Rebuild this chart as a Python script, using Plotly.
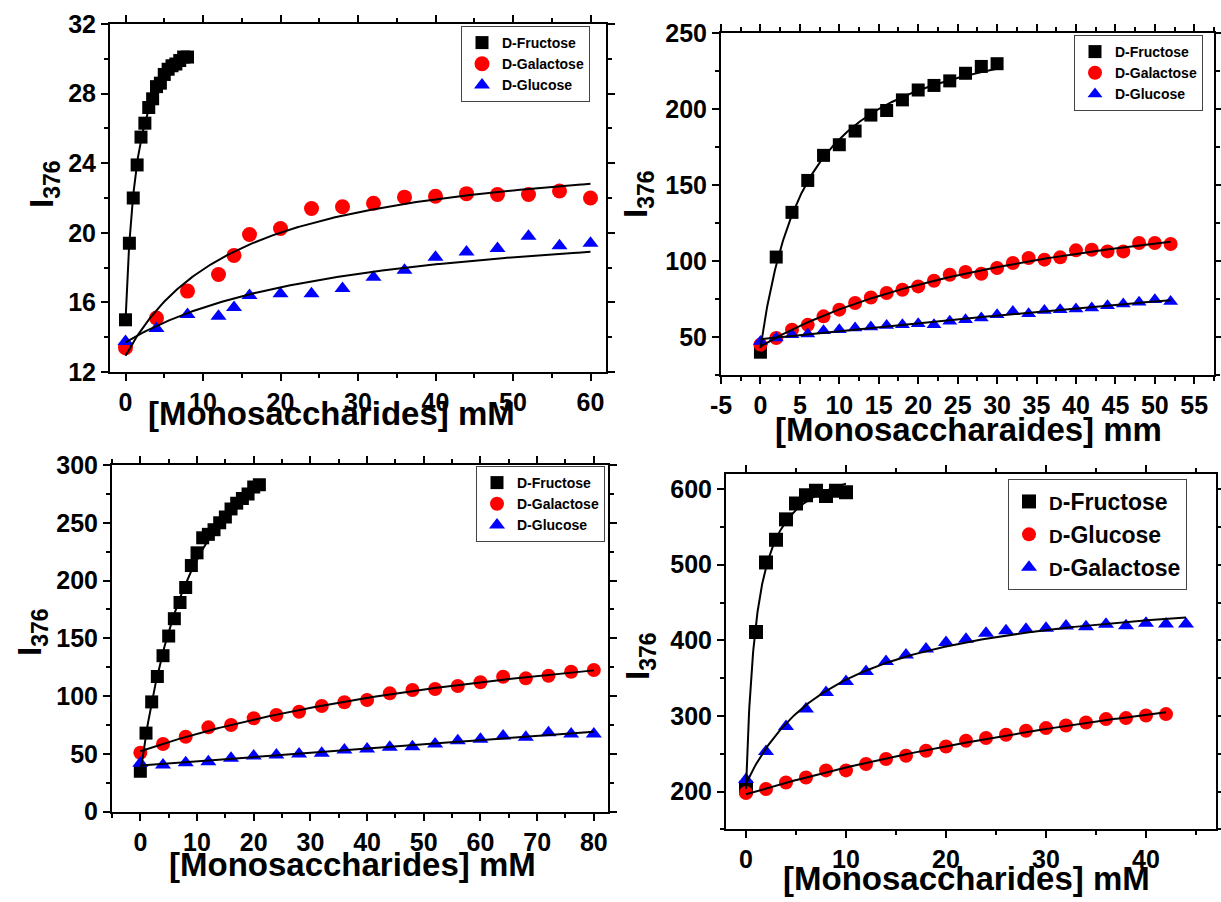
import numpy as np
import plotly.graph_objects as go

# ---------------- data ----------------
# Panel (a)
A_fru_x = [0, 0.5, 1, 1.5, 2, 2.5, 3, 3.5, 4, 4.5, 5, 5.5, 6, 6.5, 7, 7.5, 8]
A_fru_y = [15.0, 19.4, 22.0, 23.9, 25.5, 26.3, 27.2, 27.7, 28.4, 28.6, 29.1, 29.4, 29.6, 29.7, 29.9, 30.1, 30.1]
A_sug_x = [0, 4, 8, 12, 14, 16, 20, 24, 28, 32, 36, 40, 44, 48, 52, 56, 60]
A_gal_y = [13.4, 15.1, 16.65, 17.6, 18.7, 19.9, 20.25, 21.4, 21.5, 21.7, 22.05, 22.1, 22.25, 22.2, 22.2, 22.4, 22.0]
A_glu_y = [13.75, 14.5, 15.3, 15.2, 15.7, 16.4, 16.5, 16.5, 16.8, 17.45, 17.85, 18.6, 18.9, 19.1, 19.8, 19.25, 19.4]
# published fit for the glucose curve: y0, A, K
A_glu_fit = (13.7, 7.67, 28.4)

# Panel (b)
B_fru_x = [0, 2, 4, 6, 8, 10, 12, 14, 16, 18, 20, 22, 24, 26, 28, 30]
B_fru_y = [40, 102.6, 132, 153, 169.5, 176.5, 185.5, 196, 199, 206, 212.5, 215.5, 218.5, 223.5, 228, 229.8]
B_sug_x = [0, 2, 4, 6, 8, 10, 12, 14, 16, 18, 20, 22, 24, 26, 28, 30, 32, 34, 36, 38, 40, 42, 44, 46, 48, 50, 52]
B_gal_y = [45, 49.3, 54.8, 58, 63.6, 68, 72.4, 76, 78.9, 81.1, 83.3, 87, 91, 92.8, 91.6, 95.4, 98.7,
           102, 100.9, 102.4, 107, 107.4, 106.3, 106.3, 111.8, 111.8, 111.2]
B_glu_y = [47.1, 49.3, 51.5, 52, 54.1, 54.8, 55.9, 56.6, 57.6, 58.1, 58.7, 58.1, 60.3, 61.4, 62.5, 64.7, 66.8,
           65.3, 67.5, 68, 68.4, 69.1, 70.6, 71.7, 72.8, 74.5, 73.4]
B_xtick_vals = [-5, 0, 5, 10, 15, 20, 25, 30, 35, 40, 45, 50, 55]
B_xtick_text = ["-5", "0", "5", "10", "15", "20", "25", "30", "35", "40", "45", "50", "55"]

# Panel (c)
C_fru_x = [0, 1, 2, 3, 4, 5, 6, 7, 8, 9, 10, 11, 12, 13, 14, 15, 16, 17, 18, 19, 20, 21]
C_fru_y = [35, 68, 95, 117, 135, 152, 167, 181, 194, 213, 224, 237, 240, 244, 250, 255, 262, 267, 271, 275, 281, 283]
C_sug_x = [0, 4, 8, 12, 16, 20, 24, 28, 32, 36, 40, 44, 48, 52, 56, 60, 64, 68, 72, 76, 80]
C_gal_y = [51, 58.6, 64.9, 73, 75, 80.8, 83.7, 86.5, 91.5, 94.7, 96.6, 102.4, 105.3, 106.2, 108.8, 112,
           116.8, 115.4, 117.7, 121.1, 122.6]
C_glu_y = [41.9, 40.4, 42.4, 43.3, 46.2, 48.2, 49.1, 49.9, 50.5, 53.4, 54.3, 55.7, 56.2, 58.6, 61.4, 62.6,
           65.5, 64.4, 68.4, 67.2, 67.2]

# Panel (d)
D_fru_x = [0, 1, 2, 3, 4, 5, 6, 7, 8, 9, 10]
D_fru_y = [205, 411, 503, 533, 560, 581, 592, 598, 591, 598, 596]
D_glc_x = [0, 2, 4, 6, 8, 10, 12, 14, 16, 18, 20, 22, 24, 26, 28, 30, 32, 34, 36, 38, 40, 42]
D_glc_y = [198, 203.3, 212, 218.6, 227.9, 227.9, 236.3, 243, 247.3, 253.9, 259.6, 267.1, 270.7, 275,
           280.3, 283.9, 287.3, 291.3, 295.8, 297.1, 300.5, 302.4]
D_gal_x = [0, 2, 4, 6, 8, 10, 12, 14, 16, 18, 20, 22, 24, 26, 28, 30, 32, 34, 36, 38, 40, 42, 44]
D_gal_y = [216, 253, 286, 309, 331, 345.5, 358.7, 371.9, 380.7, 388.6, 397, 401.4, 409.4, 412.8, 414.6,
           416, 419, 418.1, 421.3, 419.4, 422.6, 421.7, 421.7]

# ---------------- styling ----------------
SANS = "Liberation Sans, Arial, sans-serif"
TICK_FONT = dict(family=SANS, size=25, color="black", weight="bold")
BLACK, RED, BLUE = "#000000", "#ff0000", "#0000ff"
W, H = 1221, 902


def hyperbola_fit(x, y):
    """Least-squares fit of y = y0 + A*x/(K+x); returns (y0, A, K)."""
    x = np.asarray(x, float)
    y = np.asarray(y, float)
    best = None
    for K in np.logspace(-2, 4, 3000):
        M = np.column_stack([np.ones_like(x), x / (K + x)])
        coef, *_ = np.linalg.lstsq(M, y, rcond=None)
        sse = float(((M @ coef - y) ** 2).sum())
        if best is None or sse < best[0]:
            best = (sse, K, coef)
    _, K, (y0, A) = best
    return y0, A, K


def px_x(p):
    return p / W


def px_y(p):
    return 1 - p / H


def small_d(rest):
    return "<span style='font-size:19px'>D</span>" + rest


fig = go.Figure()

panels = [
    # axis suffix, legend id, series: (name, x, y, symbol, colour, size, fixed fit params)
    ("", "legend", [
        ("D-Fructose", A_fru_x, A_fru_y, "square", BLACK, 13, None),
        ("D-Galactose", A_sug_x, A_gal_y, "circle", RED, 15, None),
        ("D-Glucose", A_sug_x, A_glu_y, "triangle-up", BLUE, 14, A_glu_fit),
    ]),
    ("2", "legend2", [
        ("D-Fructose", B_fru_x, B_fru_y, "square", BLACK, 13, None),
        ("D-Galactose", B_sug_x, B_gal_y, "circle", RED, 14, None),
        ("D-Glucose", B_sug_x, B_glu_y, "triangle-up", BLUE, 13, None),
    ]),
    ("3", "legend3", [
        ("D-Fructose", C_fru_x, C_fru_y, "square", BLACK, 13, None),
        ("D-Galactose", C_sug_x, C_gal_y, "circle", RED, 14, None),
        ("D-Glucose", C_sug_x, C_glu_y, "triangle-up", BLUE, 14, None),
    ]),
    ("4", "legend4", [
        (small_d("-Fructose"), D_fru_x, D_fru_y, "square", BLACK, 14, None),
        (small_d("-Glucose"), D_glc_x, D_glc_y, "circle", RED, 14, None),
        (small_d("-Galactose"), D_gal_x, D_gal_y, "triangle-up", BLUE, 14, None),
    ]),
]

for suffix, leg, series in panels:
    xa, ya = "x" + suffix, "y" + suffix
    for name, xs, ys, sym, col, size, _ in series:
        fig.add_trace(go.Scatter(
            x=xs, y=ys, mode="markers", name=name, legend=leg,
            xaxis=xa, yaxis=ya,
            marker=dict(symbol=sym, color=col, size=size, line=dict(width=0)),
        ))
    # binding-isotherm curves drawn on top of the points
    for name, xs, ys, sym, col, size, fixed in series:
        y0, A, K = fixed if fixed is not None else hyperbola_fit(xs, ys)
        t = np.linspace(0, max(xs), 300)
        fig.add_trace(go.Scatter(
            x=t, y=y0 + A * t / (K + t), mode="lines", showlegend=False, hoverinfo="skip",
            xaxis=xa, yaxis=ya, line=dict(color="black", width=2),
        ))


def axis(domain, rng, dtick, minor, anchor, tick0=0):
    return dict(
        domain=domain, range=rng, anchor=anchor, automargin=False,
        tickmode="linear", tick0=tick0, dtick=dtick,
        showline=True, linecolor="black", linewidth=2, mirror="ticks",
        ticks="outside", ticklen=7, tickwidth=2, tickcolor="black",
        minor=dict(ticks="outside", ticklen=4, tickwidth=1.5, tickcolor="black",
                   tickmode="linear", dtick=minor, tick0=tick0),
        showgrid=False, zeroline=False, tickfont=TICK_FONT,
    )


xaxis2 = axis([px_x(721), px_x(1214)], [-5, 57.5], 5, 2.5, "y2", tick0=-5)
xaxis2.update(tickmode="array", tickvals=B_xtick_vals, ticktext=B_xtick_text)

fig.update_layout(
    xaxis=axis([px_x(110), px_x(606)], [-2, 62], 10, 5, "y"),
    yaxis=axis([px_y(372), px_y(24)], [12, 32], 4, 2, "x"),
    xaxis2=xaxis2,
    yaxis2=axis([px_y(375), px_y(33)], [25, 250], 50, 25, "x2"),
    xaxis3=axis([px_x(112), px_x(608)], [-5, 82.5], 10, 5, "y3"),
    yaxis3=axis([px_y(811.7), px_y(465)], [0, 300], 50, 25, "x3"),
    xaxis4=axis([px_x(726), px_x(1216)], [-2, 47], 10, 5, "y4"),
    yaxis4=axis([px_y(829.3), px_y(474)], [150, 620], 100, 50, "x4"),
)

leg_common = dict(xanchor="left", yanchor="top", bgcolor="white", bordercolor="#444444",
                  borderwidth=1, tracegroupgap=0, itemsizing="trace")
small_leg_font = dict(family=SANS, size=14, color="black", weight="bold")
fig.update_layout(
    legend=dict(x=px_x(461), y=px_y(26), font=small_leg_font, **leg_common),
    legend2=dict(x=px_x(1074), y=px_y(35), font=small_leg_font, **leg_common),
    legend3=dict(x=px_x(476), y=px_y(466), font=small_leg_font, **leg_common),
    legend4=dict(x=px_x(1008), y=px_y(479), font=dict(family=SANS, size=23, color="black", weight="bold"),
                 **leg_common),
)

# axis titles
YT_FONT = dict(family=SANS, size=33, color="black", weight="bold")
XT_FONT = dict(family=SANS, size=33, color="black", weight="bold")
annotations = []
for cx, cy in [(44, 184), (638, 194), (32, 632), (640, 656)]:
    annotations.append(dict(text="I<sub>376</sub>", x=px_x(cx), y=px_y(cy), xref="paper", yref="paper",
                            textangle=-90, showarrow=False, xanchor="center", yanchor="middle", font=YT_FONT))
for txt, cx, cy in [("[Monosaccharides] mM", 332, 413), ("[Monosaccharaides] mm", 968, 429),
                    ("[Monosaccharides] mM", 352, 864), ("[Monosaccharides] mM", 966, 878)]:
    annotations.append(dict(text=txt, x=px_x(cx), y=px_y(cy), xref="paper", yref="paper",
                            showarrow=False, xanchor="center", yanchor="middle", font=XT_FONT))

fig.update_layout(
    annotations=annotations,
    width=W, height=H, autosize=False,
    margin=dict(l=0, r=0, t=0, b=0),
    paper_bgcolor="white", plot_bgcolor="white",
)

fig.write_html("out.html")
